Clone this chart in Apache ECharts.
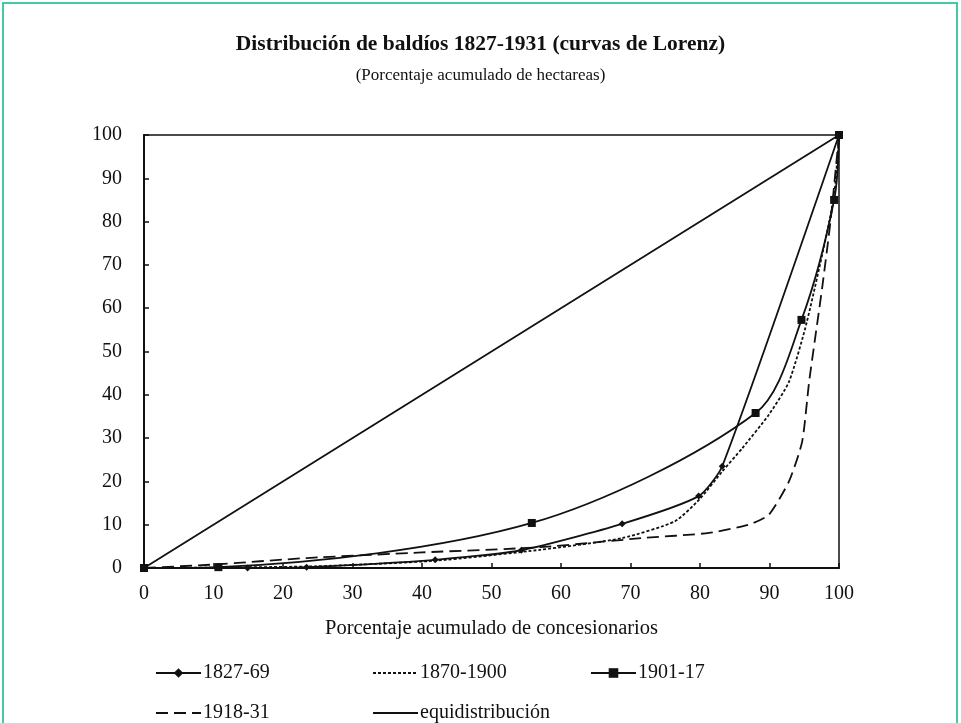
<!DOCTYPE html>
<html>
<head>
<meta charset="utf-8">
<script src="https://cdn.jsdelivr.net/npm/echarts@6/dist/echarts.min.js"></script>
<style>
  html, body { margin: 0; padding: 0; background: #ffffff; }
  #frame { position: absolute; left: 2px; top: 2px; width: 956px; height: 740px; border: 2px solid #45c9a6; box-sizing: border-box; }
  #chart { position: absolute; left: 0; top: 0; width: 961px; height: 723px; }
</style>
</head>
<body>
<div id="frame"></div>
<div id="chart"></div>
<script>
// Cumulative % of grantees (x) vs cumulative % of hectares (y)
const names = ['1827-69', '1870-1900', '1901-17', '1918-31', 'equidistribución'];

const x1827 = [0, 14.9, 23.4, 41.9, 54.3, 68.8, 79.8, 83.2, 100];
const y1827 = [0, 0, 0.2, 1.9, 4.1, 10.2, 16.6, 23.5, 100];

const x1870 = [0, 10, 25, 42, 57, 68.8, 76.4, 80, 83.2, 86.1, 89.9, 92.8, 95.4, 99.2, 100];
const y1870 = [0, 0.1, 0.4, 1.7, 4.2, 6.9, 10.8, 16, 22.3, 27.7, 35.4, 43, 57, 85, 100];

const x1901 = [0, 10.7, 55.8, 88, 94.6, 99.3, 100];
const y1901 = [0, 0.2, 10.4, 35.8, 57.3, 85, 100];

const x1918 = [0, 10, 23.4, 40, 57, 71.6, 81.3, 87, 89.9, 92.8, 94.7, 95.7, 97.6, 98.8, 100];
const y1918 = [0, 0.8, 2.3, 3.6, 4.8, 6.9, 8.1, 10, 12.3, 20, 29.2, 43, 65, 80.4, 100];

const xEq = [0, 100];
const yEq = [0, 100];

const axisTicks = [0, 10, 20, 30, 40, 50, 60, 70, 80, 90, 100];

const zip = (xs, ys) => xs.map((v, i) => [v, ys[i]]);

const serif = '"Liberation Serif", "DejaVu Serif", serif';
const ink = '#111111';

const chart = echarts.init(document.getElementById('chart'), null, { renderer: 'canvas' });

// one legend block per entry so the two rows line up in columns
function legendAt(name, left, top, withMarker) {
  const l = {
    data: [name],
    left: left,
    top: top,
    padding: 0,
    orient: 'horizontal',
    itemWidth: 45,
    itemHeight: 12,
    selectedMode: false,
    textStyle: { fontFamily: serif, fontSize: 20, color: ink, padding: [0, 0, 0, -3] }
  };
  if (!withMarker) l.itemStyle = { opacity: 0 };
  return l;
}

chart.setOption({
  animation: false,
  backgroundColor: 'transparent',
  title: {
    text: 'Distribución de baldíos 1827-1931 (curvas de Lorenz)',
    subtext: '(Porcentaje acumulado de hectareas)',
    left: 'center',
    top: 28,
    itemGap: 12,
    textStyle: { fontFamily: serif, fontSize: 21.5, fontWeight: 'bold', color: ink },
    subtextStyle: { fontFamily: serif, fontSize: 17, color: ink }
  },
  legend: [
    legendAt(names[0], 155, 663, true),
    legendAt(names[1], 372, 663, false),
    legendAt(names[2], 590, 663, true),
    legendAt(names[3], 155, 703, false),
    legendAt(names[4], 372, 703, false)
  ],
  grid: {
    left: 144, right: 122, top: 135, bottom: 155,
    show: true, borderColor: ink, borderWidth: 1.5, backgroundColor: 'transparent'
  },
  xAxis: {
    type: 'value', min: 0, max: 100, interval: 10,
    name: 'Porcentaje acumulado de concesionarios',
    nameLocation: 'middle', nameGap: 50,
    nameTextStyle: { fontFamily: serif, fontSize: 20.5, color: ink },
    axisLine: { show: true, onZero: false, lineStyle: { color: ink, width: 2 } },
    axisTick: { show: true, inside: true, length: 5, lineStyle: { color: ink, width: 1.5 } },
    axisLabel: { fontFamily: serif, fontSize: 20, color: ink, margin: 16,
      formatter: v => axisTicks.includes(v) ? String(v) : '' },
    splitLine: { show: false }
  },
  yAxis: {
    type: 'value', min: 0, max: 100, interval: 10,
    axisLine: { show: true, onZero: false, lineStyle: { color: ink, width: 2 } },
    axisTick: { show: true, inside: true, length: 5, lineStyle: { color: ink, width: 1.5 } },
    axisLabel: { fontFamily: serif, fontSize: 20, color: ink, margin: 22,
      formatter: v => axisTicks.includes(v) ? String(v) : '' },
    splitLine: { show: false }
  },
  series: [
    {
      name: names[0], type: 'line', data: zip(x1827, y1827), smooth: 0.2,
      symbol: 'diamond', symbolSize: 7, showSymbol: true,
      lineStyle: { color: ink, width: 1.8, type: 'solid' },
      itemStyle: { color: ink }, z: 5
    },
    {
      name: names[1], type: 'line', data: zip(x1870, y1870), smooth: 0.2,
      symbol: 'none',
      lineStyle: { color: ink, width: 1.8, type: [3, 2] },
      itemStyle: { color: ink }, z: 4
    },
    {
      name: names[2], type: 'line', data: zip(x1901, y1901), smooth: 0.3,
      symbol: 'rect', symbolSize: 8, showSymbol: true,
      lineStyle: { color: ink, width: 1.8, type: 'solid' },
      itemStyle: { color: ink }, z: 6
    },
    {
      name: names[3], type: 'line', data: zip(x1918, y1918), smooth: 0.2,
      symbol: 'none',
      lineStyle: { color: ink, width: 1.8, type: [12, 6] },
      itemStyle: { color: ink }, z: 3
    },
    {
      name: names[4], type: 'line', data: zip(xEq, yEq),
      symbol: 'none',
      lineStyle: { color: ink, width: 1.8, type: 'solid' },
      itemStyle: { color: ink }, z: 2
    }
  ]
});
</script>
</body>
</html>
